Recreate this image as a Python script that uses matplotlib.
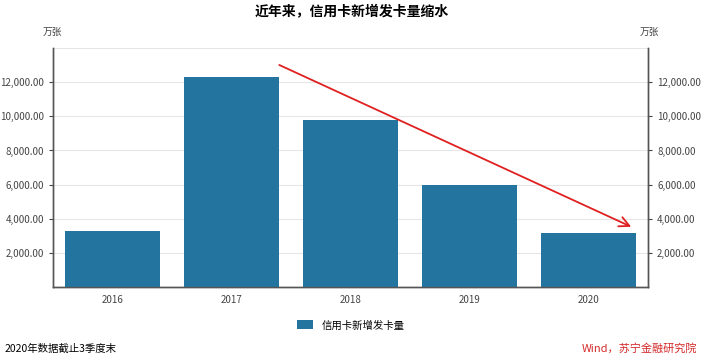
import matplotlib.pyplot as plt
from matplotlib.ticker import FuncFormatter

plt.rcParams['font.family'] = ['Noto Sans CJK SC', 'DejaVu Sans']

years = ["2016", "2017", "2018", "2019", "2020"]
new_cards = [3290, 12310, 9800, 5990, 3170]  # 万张
yticks = [2000, 4000, 6000, 8000, 10000, 12000]
# trend arrow (category index, value)
arrow_start = (1.38, 13080)
arrow_end = (4.38, 3460)

fig = plt.figure(figsize=(7.04, 3.59), dpi=100)
ax = fig.add_axes([0.0753, 0.2006, 0.8452, 0.6654])

bar_color = "#23759f"
ax.bar(range(len(years)), new_cards, width=0.8, color=bar_color, zorder=3,
       label="信用卡新增发卡量")
ax.set_xlim(-0.5, len(years) - 0.5)
ax.set_ylim(0, 14000)

for y in yticks + [14000]:
    ax.axhline(y, color="#e6e6e6", lw=0.8, zorder=1)

fmt = FuncFormatter(lambda v, p: f"{v:,.2f}")
ax.set_yticks(yticks)
ax.yaxis.set_major_formatter(fmt)
ax.set_xticks(range(len(years)))
ax.set_xticklabels(years)
ax.tick_params(axis="both", labelsize=7, colors="#444444", length=3, width=0.8)
ax.tick_params(axis="x", length=0, pad=6)

ax2 = ax.twinx()
ax2.set_ylim(ax.get_ylim())
ax2.set_yticks(yticks)
ax2.yaxis.set_major_formatter(fmt)
ax2.tick_params(axis="y", labelsize=7, colors="#444444", length=3, width=0.8)

for a in (ax, ax2):
    a.spines["top"].set_visible(False)
    for s in ("left", "right", "bottom"):
        a.spines[s].set_color("#555555")
        a.spines[s].set_linewidth(1.0)

ax.annotate("", xy=arrow_end, xytext=arrow_start,
            arrowprops=dict(arrowstyle="->", color="#e02020", lw=1.3,
                            mutation_scale=18), zorder=5)

fig.text(0.5, 0.965, "近年来，信用卡新增发卡量缩水", ha="center", va="center",
         fontsize=10, fontweight="bold")
fig.text(0.074, 0.91, "万张", ha="center", va="center", fontsize=7, color="#444444")
fig.text(0.922, 0.91, "万张", ha="center", va="center", fontsize=7, color="#444444")

ax.legend(loc="center", bbox_to_anchor=(0.5, -0.16), frameon=False, fontsize=7.5,
          handlelength=1.6, handleheight=0.9)

fig.text(0.007, 0.03, "2020年数据截止3季度末", ha="left", va="center", fontsize=7.5)
fig.text(0.99, 0.03, "Wind，苏宁金融研究院", ha="right", va="center", fontsize=8,
         color="#d42a2a", style="italic")

fig.savefig("out.png", dpi=100)
